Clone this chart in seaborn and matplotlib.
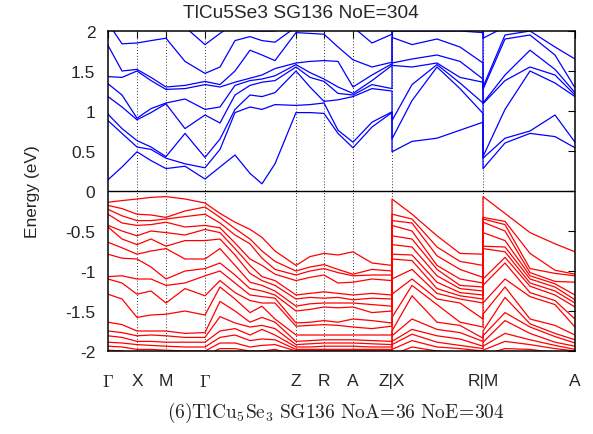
import numpy as np
import pandas as pd
import matplotlib
matplotlib.use('Agg')
import matplotlib.pyplot as plt
import seaborn as sns

# path coordinate of every sampled k-point (jumps at Z|X and R|M are repeated)
kpath = [0, 14, 29, 43, 58, 77, 97, 112, 127, 142, 154, 167, 188, 202, 216,
         230, 245, 264, 284, 284, 304, 329, 352, 375, 375, 397, 422, 447, 467]
knodes = [0, 29, 58, 97, 188, 216, 245, 284, 375, 467]
klabels = [r'$\Gamma$', 'X', 'M', r'$\Gamma$', 'Z', 'R', 'A', 'Z|X', 'R|M', 'A']

# conduction bands (eV)
cb1 = [0.14, 0.30, 0.49, 0.38, 0.28, 0.31, 0.15, 0.30, 0.45, 0.22, 0.09, 0.34, 0.98, 0.98, 0.97,
       0.72, 0.54, 0.80, 0.98, 0.49, 0.62, 0.66, 0.76, 0.86, 0.28, 0.60, 0.72, 0.68, 0.54]
cb2 = [0.88, 0.72, 0.55, 0.52, 0.41, 0.34, 0.29, 0.52, 0.98, 1.05, 1.02, 1.08, 1.07, 1.08, 1.10,
       0.76, 0.61, 0.86, 0.99, 0.65, 1.13, 1.55, 1.28, 0.97, 0.41, 0.66, 0.75, 0.95, 0.61]
cb3 = [0.96, 0.78, 0.63, 0.55, 0.43, 0.72, 0.42, 0.65, 1.02, 1.20, 1.18, 1.23, 1.50, 1.30, 1.12,
       1.14, 1.18, 1.28, 1.25, 0.88, 1.33, 1.58, 1.35, 1.10, 0.43, 1.02, 1.50, 1.35, 1.18]
cb4 = [1.18, 1.05, 0.89, 0.98, 1.09, 0.78, 0.95, 0.85, 1.20, 1.32, 1.36, 1.38, 1.55, 1.42, 1.37,
       1.22, 1.20, 1.33, 1.28, 1.57, 1.55, 1.60, 1.42, 1.36, 1.09, 1.38, 1.55, 1.45, 1.20]
cb5 = [1.34, 1.20, 0.91, 1.03, 1.10, 1.15, 1.02, 1.05, 1.32, 1.38, 1.40, 1.44, 1.58, 1.48, 1.40,
       1.30, 1.22, 1.38, 1.57, 1.60, 1.65, 1.70, 1.62, 1.40, 1.10, 1.45, 1.76, 1.52, 1.23]
cb6 = [1.43, 1.42, 1.50, 1.38, 1.27, 1.28, 1.33, 1.30, 1.36, 1.41, 1.45, 1.53, 1.60, 1.62, 1.63,
       1.62, 1.30, 1.45, 1.59, 1.92, 1.83, 1.90, 1.80, 1.60, 1.27, 1.90, 1.95, 1.70, 1.29]
cb7 = [1.82, 1.50, 1.52, 1.42, 1.30, 1.32, 1.37, 1.33, 1.50, 1.76, 1.70, 1.63, 1.98, 1.97, 1.96,
       1.80, 1.64, 1.55, 1.61, 2.00, 2.00, 2.00, 2.00, 1.98, 1.30, 1.95, 2.00, 1.80, 1.65]
cb8 = [2.10, 1.84, 1.85, 1.88, 1.91, 1.62, 1.47, 1.55, 1.88, 1.93, 1.88, 1.86, 2.05, 2.05, 2.05,
       2.05, 2.05, 1.85, 1.96, 2.05, 2.05, 2.05, 2.05, 2.05, 1.91, 2.05, 2.05, 2.05, 2.05]
cb9 = [2.20, 2.10, 2.10, 2.10, 2.10, 2.05, 1.83, 1.97, 2.10, 2.00, 2.00, 2.00, 2.10, 2.10, 2.10,
       2.10, 2.10, 2.05, 2.05, 2.10, 2.10, 2.10, 2.10, 2.10, 2.10, 2.10, 2.10, 2.10, 2.10]

# valence bands (eV)
vb1 = [-0.14, -0.12, -0.10, -0.08, -0.07, -0.10, -0.15, -0.28, -0.39, -0.48, -0.58, -0.75, -0.93, -0.82, -0.78,
       -0.80, -0.76, -0.90, -0.93, -0.10, -0.29, -0.56, -0.78, -0.79, -0.07, -0.28, -0.52, -0.66, -0.76]
vb2 = [-0.18, -0.22, -0.29, -0.30, -0.33, -0.25, -0.20, -0.33, -0.47, -0.60, -0.75, -0.88, -1.00, -0.95, -0.92,
       -0.98, -1.04, -0.98, -1.00, -0.29, -0.35, -0.70, -0.88, -0.93, -0.33, -0.38, -0.78, -0.99, -1.04]
vb3 = [-0.23, -0.31, -0.37, -0.37, -0.35, -0.32, -0.29, -0.40, -0.55, -0.66, -0.84, -0.98, -1.05, -1.00, -0.97,
       -1.02, -1.06, -1.05, -1.05, -0.37, -0.40, -0.81, -0.98, -1.08, -0.35, -0.42, -0.97, -1.03, -1.06]
vb4 = [-0.29, -0.40, -0.43, -0.42, -0.39, -0.45, -0.43, -0.46, -0.65, -0.85, -0.93, -1.04, -1.12, -1.08, -1.05,
       -1.15, -1.14, -1.10, -1.12, -0.43, -0.50, -0.93, -1.10, -1.15, -0.39, -0.50, -1.02, -1.13, -1.14]
vb5 = [-0.43, -0.50, -0.56, -0.50, -0.52, -0.55, -0.48, -0.52, -0.72, -0.93, -1.07, -1.12, -1.30, -1.28, -1.26,
       -1.28, -1.30, -1.28, -1.30, -0.56, -0.60, -0.98, -1.18, -1.20, -0.52, -0.62, -1.06, -1.16, -1.30]
vb6 = [-0.45, -0.60, -0.67, -0.60, -0.69, -0.62, -0.62, -0.60, -0.80, -1.03, -1.12, -1.18, -1.35, -1.33, -1.34,
       -1.33, -1.36, -1.34, -1.35, -0.67, -0.70, -1.06, -1.22, -1.25, -0.69, -0.70, -1.10, -1.20, -1.36]
vb7 = [-0.64, -0.71, -0.79, -0.75, -0.72, -0.85, -0.85, -0.72, -0.93, -1.14, -1.18, -1.25, -1.44, -1.41, -1.40,
       -1.40, -1.40, -1.42, -1.44, -0.79, -0.80, -1.14, -1.27, -1.30, -0.72, -0.76, -1.15, -1.25, -1.40]
vb8 = [-0.79, -0.84, -0.85, -0.95, -1.10, -1.00, -0.97, -0.90, -1.05, -1.22, -1.25, -1.30, -1.50, -1.48, -1.45,
       -1.46, -1.45, -1.52, -1.50, -0.85, -0.87, -1.22, -1.31, -1.35, -1.10, -0.83, -1.19, -1.30, -1.45]
vb9 = [-1.07, -1.06, -1.10, -1.10, -1.18, -1.15, -1.06, -1.00, -1.15, -1.30, -1.32, -1.34, -1.65, -1.64, -1.62,
       -1.64, -1.60, -1.62, -1.65, -1.10, -0.98, -1.28, -1.35, -1.40, -1.18, -0.90, -1.27, -1.37, -1.60]
vb10 = [-1.10, -1.15, -1.29, -1.25, -1.40, -1.22, -1.31, -1.12, -1.27, -1.37, -1.40, -1.40, -1.69, -1.68, -1.67,
        -1.68, -1.70, -1.72, -1.69, -1.29, -1.10, -1.35, -1.40, -1.60, -1.40, -1.10, -1.32, -1.42, -1.70]
vb11 = [-1.29, -1.35, -1.58, -1.55, -1.54, -1.50, -1.55, -1.20, -1.35, -1.52, -1.44, -1.60, -1.80, -1.80, -1.80,
        -1.80, -1.80, -1.80, -1.80, -1.58, -1.18, -1.42, -1.64, -1.70, -1.54, -1.20, -1.60, -1.68, -1.80]
vb12 = [-1.64, -1.67, -1.75, -1.75, -1.75, -1.78, -1.77, -1.38, -1.50, -1.64, -1.58, -1.64, -1.88, -1.87, -1.86,
        -1.86, -1.86, -1.87, -1.88, -1.75, -1.31, -1.64, -1.68, -1.84, -1.75, -1.33, -1.66, -1.78, -1.86]
vb13 = [-1.75, -1.77, -1.81, -1.80, -1.81, -1.83, -1.83, -1.57, -1.65, -1.70, -1.68, -1.72, -1.92, -1.91, -1.90,
        -1.90, -1.90, -1.91, -1.92, -1.81, -1.60, -1.73, -1.77, -1.88, -1.81, -1.52, -1.70, -1.82, -1.90]
vb14 = [-1.81, -1.83, -1.88, -1.88, -1.89, -1.89, -1.89, -1.75, -1.72, -1.80, -1.73, -1.80, -1.95, -1.95, -1.94,
        -1.94, -1.94, -1.95, -1.95, -1.88, -1.73, -1.81, -1.85, -1.94, -1.89, -1.62, -1.78, -1.89, -1.94]
vb15 = [-1.89, -1.90, -1.92, -1.93, -1.94, -1.95, -1.95, -1.83, -1.80, -1.87, -1.85, -1.86, -1.98, -1.98, -1.98,
        -1.98, -1.98, -1.98, -1.98, -1.92, -1.79, -1.89, -1.93, -1.97, -1.94, -1.78, -1.86, -1.93, -1.98]
vb16 = [-1.94, -1.95, -1.98, -1.98, -1.99, -2.00, -2.00, -1.90, -1.90, -1.95, -1.93, -1.92, -2.00, -2.00, -2.00,
        -2.00, -2.00, -2.00, -2.00, -1.98, -1.87, -1.95, -1.97, -2.00, -1.99, -1.88, -1.92, -1.97, -2.00]
vb17 = [-1.99, -2.00, -2.05, -2.05, -2.05, -2.05, -2.05, -1.97, -1.97, -2.00, -2.00, -1.98, -2.05, -2.05, -2.05,
        -2.05, -2.05, -2.05, -2.05, -2.05, -1.95, -2.00, -2.02, -2.05, -2.05, -1.97, -1.98, -2.02, -2.05]

conduction = [cb1, cb2, cb3, cb4, cb5, cb6, cb7, cb8, cb9]
valence = [vb1, vb2, vb3, vb4, vb5, vb6, vb7, vb8, vb9, vb10, vb11, vb12, vb13, vb14, vb15, vb16, vb17]


def to_long(bands):
    rows = []
    for i, b in enumerate(bands):
        assert len(b) == len(kpath)
        for k, e in zip(kpath, b):
            rows.append({'k': k, 'E': e, 'band': i})
    return pd.DataFrame(rows)


sns.set_style('white')
plt.rcParams['font.family'] = ['Liberation Sans', 'DejaVu Sans']
plt.rcParams['mathtext.fontset'] = 'cm'
plt.rcParams['axes.unicode_minus'] = False

fig = plt.figure(figsize=(5.93, 4.35), dpi=100)
ax = fig.add_axes([108 / 593, 1 - 352 / 435, 467 / 593, 320 / 435])

for k in knodes[1:-1]:
    ax.axvline(k, color='#333333', ls=(0, (1, 2)), lw=0.7, zorder=1)
ax.axhline(0, color='black', lw=1.0, zorder=1)

sns.lineplot(data=to_long(conduction), x='k', y='E', units='band', estimator=None,
             sort=False, color='#0000ff', lw=0.9, ax=ax, legend=False)
sns.lineplot(data=to_long(valence), x='k', y='E', units='band', estimator=None,
             sort=False, color='#ff0000', lw=0.9, ax=ax, legend=False)

ax.set_xlim(0, 467)
ax.set_ylim(-2, 2)
ax.set_xticks(knodes)
ax.set_xticklabels(klabels, fontsize=12.5)
yt = [-2, -1.5, -1, -0.5, 0, 0.5, 1, 1.5, 2]
ax.set_yticks(yt)
ax.set_yticklabels(['-2', '-1.5', '-1', '-0.5', '0', '0.5', '1', '1.5', '2'], fontsize=12.5)
ax.tick_params(axis='both', direction='in', top=True, right=True, length=5, width=0.8, color='black')
ax.tick_params(axis='x', pad=16)
ax.tick_params(axis='y', pad=9)
ax.set_xlabel('')
ax.set_ylabel('Energy (eV)', fontsize=12.5)
ax.yaxis.set_label_coords(-0.145, 0.5)
for s in ax.spines.values():
    s.set_color('black')
    s.set_linewidth(1.1)

fig.text(301 / 593, 1 - 13 / 435, 'TlCu5Se3 SG136 NoE=304', ha='center', va='center', fontsize=13.8)
fig.text(336 / 593, 1 - 413 / 435,
         r'$\mathrm{(6)TlCu_5Se_3\ SG136\ NoA\!=\!36\ NoE\!=\!304}$',
         ha='center', va='center', fontsize=14)

fig.savefig('out.png', dpi=100)
